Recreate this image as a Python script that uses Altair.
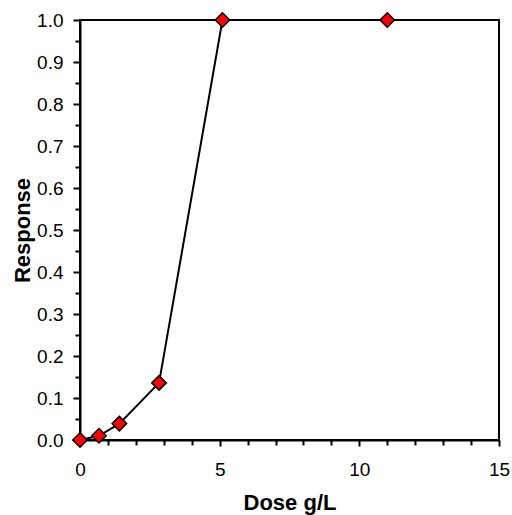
import altair as alt
import pandas as pd

dose = [0.0, 0.68, 1.41, 2.83, 5.1, 11.0]
response = [0.0, 0.010, 0.039, 0.136, 1.0, 1.0]

x_major = [0, 5, 10, 15]
x_minor = [1, 2, 3, 4, 6, 7, 8, 9, 11, 12, 13, 14]
y_major = [0.0, 0.1, 0.2, 0.3, 0.4, 0.5, 0.6, 0.7, 0.8, 0.9, 1.0]
y_minor = [0.05, 0.15, 0.25, 0.35, 0.45, 0.55, 0.65, 0.75, 0.85, 0.95]

df = pd.DataFrame({"dose": dose, "response": response})

FONT = "Liberation Sans"

xscale = alt.Scale(domain=[0, 15], nice=False, zero=False)
yscale = alt.Scale(domain=[0, 1], nice=False, zero=False)

major_x = alt.Axis(
    orient="bottom", values=x_major, title="Dose g/L", grid=False,
    domainColor="black", domainWidth=2, tickColor="black", tickWidth=2, tickSize=6,
    labelFont=FONT, labelFontSize=19, labelColor="black", labelPadding=14,
    labelFlush=False, labelOverlap=False,
    titleFont=FONT, titleFontSize=22, titleFontWeight="bold", titleColor="black",
    titleBaseline="alphabetic", titleY=69, titleX=209.5, titleAlign="center",
)
minor_x = alt.Axis(
    orient="bottom", values=x_minor, title=None, grid=False, labels=False,
    domain=False, tickColor="black", tickWidth=2, tickSize=5,
)
major_y = alt.Axis(
    orient="left", values=y_major, format=".1f", title="Response", grid=False,
    domainColor="black", domainWidth=2, tickColor="black", tickWidth=2, tickSize=7,
    labelFont=FONT, labelFontSize=19, labelColor="black", labelPadding=10,
    labelFlush=False, labelOverlap=False,
    titleFont=FONT, titleFontSize=22, titleFontWeight="bold", titleColor="black",
    titleAngle=270, titleBaseline="alphabetic", titleX=-50.5, titleY=210, titleAlign="center",
)
minor_y = alt.Axis(
    orient="left", values=y_minor, title=None, grid=False, labels=False,
    domain=False, tickColor="black", tickWidth=2, tickSize=5,
)

base = alt.Chart(df)

line = base.mark_line(color="black", strokeWidth=2).encode(
    x=alt.X("dose:Q", scale=xscale, axis=minor_x),
    y=alt.Y("response:Q", scale=yscale, axis=minor_y),
)
points = base.mark_point(
    shape="diamond", filled=True, fill="#ff0000", stroke="black",
    strokeWidth=1.5, size=210, opacity=1,
).encode(
    x=alt.X("dose:Q", scale=xscale, axis=major_x),
    y=alt.Y("response:Q", scale=yscale, axis=major_y),
)

chart = (
    alt.layer(line, points)
    .resolve_axis(x="independent", y="independent")
    .properties(
        width=419, height=420,
        autosize=alt.AutoSizeParams(type="none"),
        padding={"left": 80, "top": 20, "right": 13, "bottom": 75},
        background="white",
    )
    .configure_view(stroke="black", strokeWidth=2)
)

chart.save("out.html", embed_options={"renderer": "svg", "actions": False})
